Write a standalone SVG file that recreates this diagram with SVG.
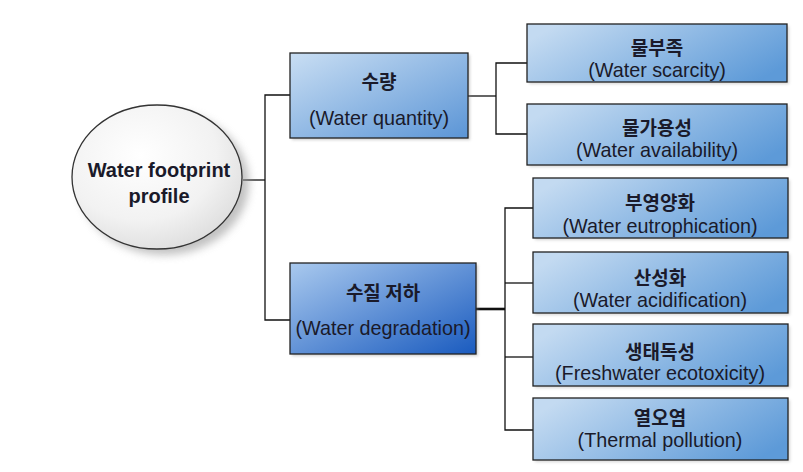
<svg xmlns="http://www.w3.org/2000/svg" width="803" height="472" viewBox="0 0 803 472">
<defs>
<style>
.ko{font-family:"Noto Sans CJK KR","Noto Sans",sans-serif;font-weight:bold;font-size:19px;fill:#1a1a2a;text-anchor:middle}
.en{font-family:"Liberation Sans",Arial,sans-serif;font-size:19.8px;fill:#1a1a2a;text-anchor:middle}
.box{stroke:#222;stroke-width:1.3}
.ln{stroke:#111;stroke-width:1.3;fill:none}
</style>
<linearGradient id="gA" x1="0" y1="0" x2="1" y2="1">
<stop offset="0" stop-color="#c9def3"/>
<stop offset="1" stop-color="#5b95d6"/>
</linearGradient>
<linearGradient id="gB" x1="0" y1="0" x2="1" y2="1">
<stop offset="0" stop-color="#a9c9ee"/>
<stop offset="1" stop-color="#1a5bbf"/>
</linearGradient>
<linearGradient id="gC" x1="0" y1="0.3" x2="1" y2="0.7">
<stop offset="0" stop-color="#c3daf1"/>
<stop offset="1" stop-color="#5d9ad8"/>
</linearGradient>
<radialGradient id="gE" cx="0.4" cy="0.35" r="0.75">
<stop offset="0" stop-color="#ffffff"/>
<stop offset="0.6" stop-color="#f2f2f2"/>
<stop offset="1" stop-color="#d9d9d9"/>
</radialGradient>
<filter id="sh" x="-20%" y="-20%" width="150%" height="150%">
<feGaussianBlur stdDeviation="4"/>
</filter>
<filter id="bs" x="-10%" y="-10%" width="120%" height="130%">
<feGaussianBlur stdDeviation="1.5"/>
</filter>
</defs>
<rect width="803" height="472" fill="#ffffff"/>
<g id="connectors">
<polyline class="ln" points="243,180 265,180"/>
<polyline class="ln" points="290,95 265,95 265,320 290,320"/>
<polyline class="ln" points="468,96 496,96"/>
<polyline class="ln" points="527,63 496,63 496,134 527,134"/>
<line x1="476" y1="309" x2="505" y2="309" stroke="#111" stroke-width="2.6"/>
<polyline class="ln" points="533,208 505,208 505,430 533,430"/>
<line class="ln" x1="505" y1="283" x2="533" y2="283"/>
<line class="ln" x1="505" y1="357" x2="533" y2="357"/>
</g>
<g id="root">
<ellipse cx="164" cy="183" rx="85" ry="72" fill="#999" opacity="0.6" filter="url(#sh)"/>
<ellipse cx="157" cy="177" rx="85" ry="72" fill="url(#gE)" stroke="#333" stroke-width="1.3"/>
<text class="en" x="159" y="177" style="font-weight:bold;font-size:20px">Water footprint</text>
<text class="en" x="159" y="203" style="font-weight:bold;font-size:20px">profile</text>
</g>
<g id="quantity">
<rect x="292" y="55" width="178" height="85" fill="#888" opacity="0.4" filter="url(#bs)"/>
<rect class="box" x="290" y="53" width="178" height="85" fill="url(#gA)"/>
<text class="ko" x="379" y="89">수량</text>
<text class="en" x="379" y="125">(Water quantity)</text>
</g>
<g id="degradation">
<rect x="292" y="265" width="186" height="91" fill="#888" opacity="0.4" filter="url(#bs)"/>
<rect class="box" x="290" y="263" width="186" height="91" fill="url(#gB)"/>
<text class="ko" x="383" y="300">수질 저하</text>
<text class="en" x="383" y="335">(Water degradation)</text>
</g>
<g id="scarcity">
<rect x="529" y="26" width="260" height="58" fill="#888" opacity="0.35" filter="url(#bs)"/>
<rect class="box" x="527" y="24" width="260" height="58" fill="url(#gC)"/>
<text class="ko" x="657" y="55">물부족</text>
<text class="en" x="657" y="77">(Water scarcity)</text>
</g>
<g id="availability">
<rect x="529" y="106" width="260" height="61" fill="#888" opacity="0.35" filter="url(#bs)"/>
<rect class="box" x="527" y="104" width="260" height="61" fill="url(#gC)"/>
<text class="ko" x="657" y="135">물가용성</text>
<text class="en" x="657" y="157">(Water availability)</text>
</g>
<g id="eutrophication">
<rect x="535" y="180" width="255" height="60" fill="#888" opacity="0.35" filter="url(#bs)"/>
<rect class="box" x="533" y="178" width="255" height="60" fill="url(#gC)"/>
<text class="ko" x="660" y="210">부영양화</text>
<text class="en" x="660" y="233">(Water eutrophication)</text>
</g>
<g id="acidification">
<rect x="535" y="254" width="255" height="61" fill="#888" opacity="0.35" filter="url(#bs)"/>
<rect class="box" x="533" y="252" width="255" height="61" fill="url(#gC)"/>
<text class="ko" x="660" y="285">산성화</text>
<text class="en" x="660" y="307">(Water acidification)</text>
</g>
<g id="ecotoxicity">
<rect x="535" y="326" width="255" height="62" fill="#888" opacity="0.35" filter="url(#bs)"/>
<rect class="box" x="533" y="324" width="255" height="62" fill="url(#gC)"/>
<text class="ko" x="660" y="359">생태독성</text>
<text class="en" x="660" y="380">(Freshwater ecotoxicity)</text>
</g>
<g id="thermal">
<rect x="535" y="400" width="255" height="62" fill="#888" opacity="0.35" filter="url(#bs)"/>
<rect class="box" x="533" y="398" width="255" height="62" fill="url(#gC)"/>
<text class="ko" x="660" y="425">열오염</text>
<text class="en" x="660" y="447">(Thermal pollution)</text>
</g>
</svg>
